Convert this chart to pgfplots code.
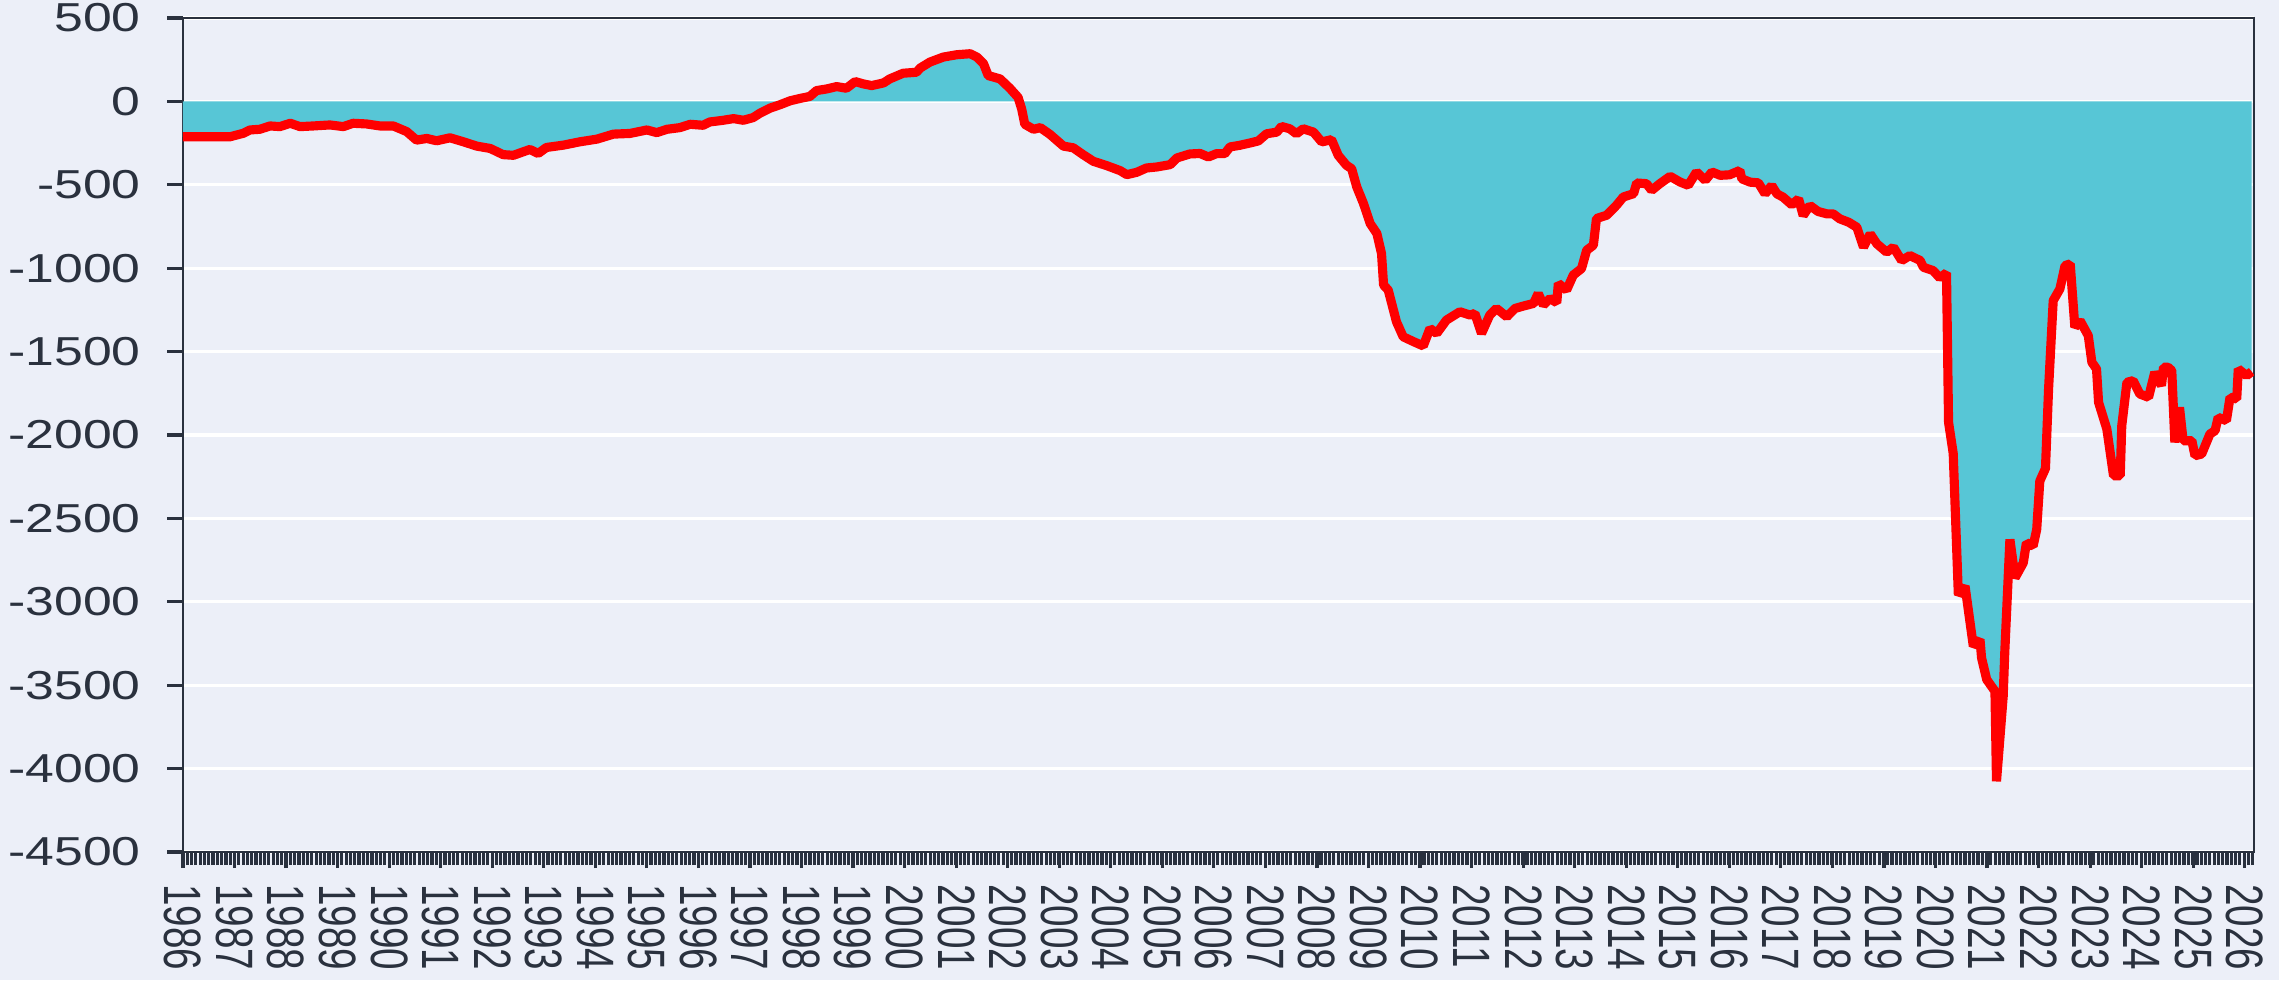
\documentclass[border=0pt]{standalone}
\usepackage{pgfplots}
\usepackage{pgfplotstable}
\pgfplotsset{compat=1.18}
\usepackage{fontspec}
\setmainfont{Liberation Sans}
\definecolor{bg}{RGB}{236,239,248}
\definecolor{barc}{RGB}{87,198,214}
\definecolor{axc}{RGB}{42,49,62}
\pgfplotstableread{
t v
1986.00 -212
1986.91 -212
1987.17 -191
1987.30 -171
1987.49 -167
1987.69 -147
1987.88 -151
1988.08 -131
1988.27 -151
1988.53 -147
1988.85 -141
1989.11 -151
1989.30 -131
1989.56 -135
1989.82 -147
1990.08 -147
1990.34 -181
1990.53 -232
1990.73 -222
1990.92 -236
1991.18 -218
1991.44 -242
1991.70 -268
1991.96 -282
1992.21 -319
1992.41 -323
1992.60 -302
1992.73 -288
1992.89 -312
1993.05 -276
1993.38 -262
1993.70 -242
1994.03 -226
1994.35 -196
1994.67 -192
1995.00 -171
1995.19 -187
1995.39 -167
1995.64 -157
1995.84 -137
1996.09 -143
1996.22 -123
1996.48 -113
1996.68 -103
1996.87 -113
1997.06 -97
1997.19 -71
1997.39 -40
1997.58 -20
1997.78 4
1997.97 18
1998.16 30
1998.29 65
1998.49 75
1998.68 89
1998.87 79
1999.04 119
1999.20 105
1999.36 95
1999.59 111
1999.71 135
1999.97 169
2000.23 175
2000.30 200
2000.49 236
2000.75 266
2001.01 280
2001.27 286
2001.40 266
2001.53 226
2001.62 155
2001.85 135
2002.04 79
2002.20 24
2002.27 -46
2002.33 -137
2002.50 -167
2002.63 -157
2002.82 -198
2003.08 -268
2003.27 -278
2003.46 -319
2003.66 -359
2003.92 -385
2004.18 -415
2004.31 -439
2004.50 -425
2004.69 -399
2004.89 -393
2005.15 -379
2005.28 -339
2005.53 -315
2005.73 -312
2005.89 -333
2006.05 -313
2006.21 -313
2006.31 -273
2006.50 -263
2006.70 -249
2006.86 -237
2007.02 -194
2007.22 -184
2007.31 -150
2007.47 -164
2007.60 -194
2007.73 -164
2007.93 -184
2008.09 -243
2008.28 -229
2008.41 -323
2008.57 -383
2008.67 -403
2008.77 -513
2008.90 -612
2009.03 -732
2009.16 -792
2009.25 -912
2009.29 -1101
2009.38 -1131
2009.54 -1321
2009.67 -1411
2009.87 -1440
2010.06 -1466
2010.19 -1361
2010.32 -1391
2010.51 -1311
2010.77 -1261
2010.97 -1281
2011.06 -1271
2011.19 -1391
2011.35 -1281
2011.48 -1241
2011.68 -1291
2011.84 -1241
2012.00 -1227
2012.20 -1211
2012.29 -1151
2012.39 -1221
2012.52 -1181
2012.65 -1207
2012.68 -1091
2012.84 -1131
2012.97 -1041
2013.13 -1002
2013.23 -892
2013.36 -862
2013.42 -702
2013.62 -682
2013.81 -622
2013.94 -573
2014.14 -553
2014.20 -489
2014.39 -493
2014.49 -533
2014.65 -493
2014.85 -449
2015.04 -483
2015.20 -503
2015.36 -423
2015.53 -473
2015.66 -423
2015.82 -443
2016.00 -440
2016.20 -414
2016.24 -464
2016.40 -484
2016.56 -488
2016.69 -554
2016.82 -504
2016.92 -554
2017.04 -574
2017.21 -620
2017.34 -584
2017.43 -684
2017.56 -624
2017.72 -660
2017.89 -674
2018.01 -674
2018.14 -704
2018.31 -724
2018.47 -754
2018.60 -874
2018.73 -794
2018.86 -854
2019.05 -904
2019.18 -874
2019.34 -954
2019.50 -924
2019.70 -954
2019.76 -994
2019.95 -1014
2020.08 -1058
2020.21 -1028
2020.25 -1924
2020.34 -2110
2020.44 -2960
2020.57 -2906
2020.73 -3266
2020.86 -3226
2020.89 -3336
2020.99 -3466
2021.15 -3536
2021.18 -4076
2021.31 -3566
2021.34 -3306
2021.44 -2626
2021.54 -2856
2021.70 -2766
2021.76 -2646
2021.89 -2666
2021.96 -2566
2022.02 -2276
2022.13 -2200
2022.19 -1724
2022.28 -1194
2022.41 -1124
2022.51 -984
2022.61 -974
2022.70 -1354
2022.80 -1314
2022.96 -1404
2023.03 -1564
2023.12 -1604
2023.16 -1804
2023.32 -1964
2023.45 -2244
2023.58 -2244
2023.61 -1944
2023.71 -1684
2023.83 -1674
2023.96 -1754
2024.13 -1774
2024.25 -1624
2024.38 -1704
2024.42 -1594
2024.51 -1594
2024.58 -1614
2024.64 -2044
2024.73 -1834
2024.80 -2034
2024.97 -2034
2025.03 -2124
2025.16 -2114
2025.32 -1994
2025.42 -1974
2025.48 -1894
2025.64 -1914
2025.71 -1774
2025.84 -1784
2025.87 -1604
2026.03 -1644
2026.13 -1620
}\deficit
\begin{document}
\begin{tikzpicture}
\fill[bg] (-1.83,-1.28) rectangle (20.96,8.52);
\useasboundingbox (-1.83,-1.28) rectangle (20.96,8.52);
\begin{axis}[
  at={(0,0)}, anchor=south west,
  scale only axis, width=20.71cm, height=8.34cm,
  xmin=1986, xmax=2026.175, ymin=-4500, ymax=500,
  ytick={-4500,-4000,...,500},
  xtick={1986,...,2026},
  minor xtick={1986.083333,1986.166667,...,2026.17},
  tick align=outside, tick pos=left,
  major tick length=0.16cm, minor tick length=0.13cm,
  axis line style={axc, line width=0.8pt},
  tick style={axc, line width=0.9pt},
  minor tick style={axc, line width=0.9pt},
  ymajorgrids, grid style={white, line width=0.9pt},
  axis background/.style={fill=bg},
  yticklabel style={font=\fontsize{11.5}{13}\selectfont, text=axc, xshift=-0.14cm},
  xticklabel style={font=\fontsize{11}{13}\selectfont, text=axc, yshift=-0.04cm},
  yticklabel={\scalebox{1.28}[1]{\pgfmathprintnumber[assume math mode=true, 1000 sep={}]{\tick}}},
  xticklabel={\scalebox{1.36}[1]{\rotatebox{-90}{\pgfmathprintnumber[assume math mode=true, 1000 sep={}, fixed, precision=0]{\tick}}}},
]
\addplot[fill=barc, draw=none] table[x=t, y=v] {\deficit} \closedcycle;
\addplot[red, line width=2.6pt, line join=bevel] table[x=t, y=v] {\deficit};
\end{axis}
\end{tikzpicture}
\end{document}
